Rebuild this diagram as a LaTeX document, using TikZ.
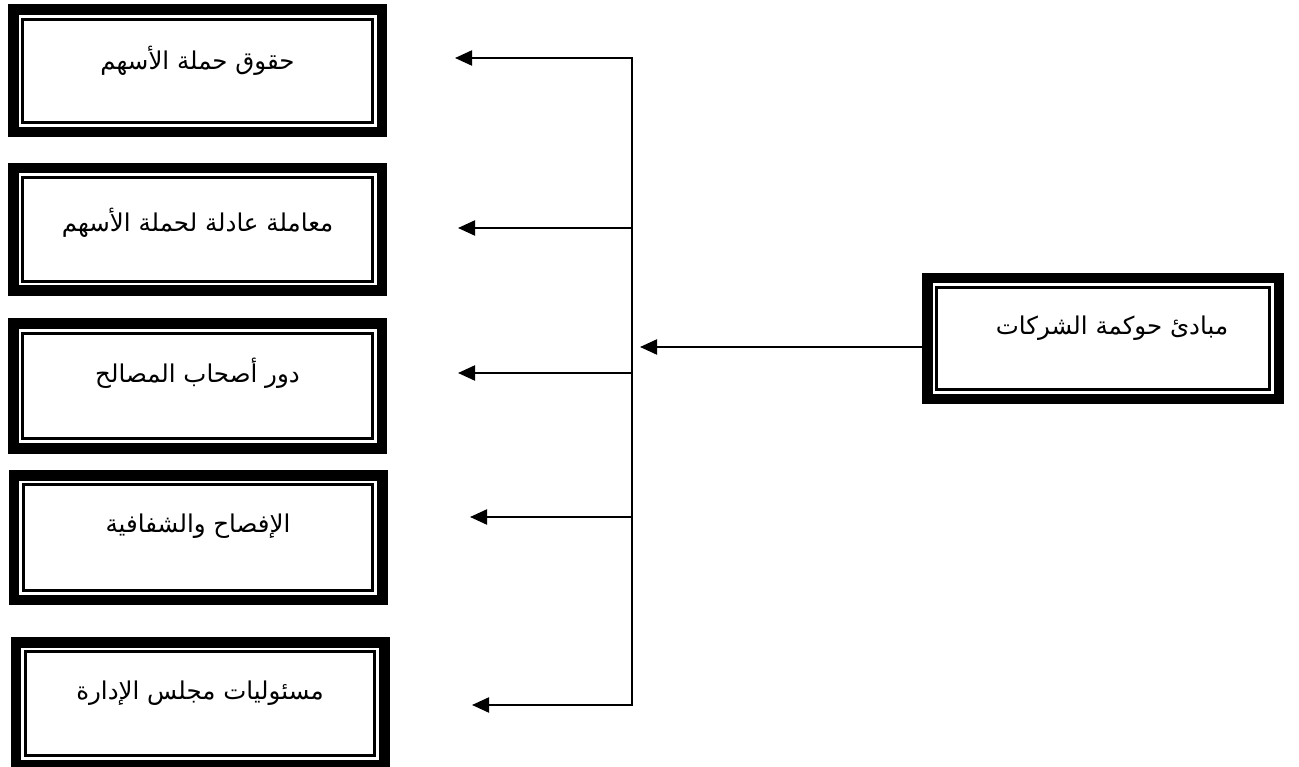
\documentclass[tikz,border=0pt]{standalone}
\usepackage{fontspec}
\newfontfamily\arabicfont[Script=Arabic]{DejaVu Sans}
\TeXXeTstate=1
\usetikzlibrary{arrows.meta}
\begin{document}
\begin{tikzpicture}[x=1pt,y=-1pt,
  framebox/.style={draw=black, line width=10.5pt, minimum width=368.5pt, minimum height=122.5pt,
    inner sep=0pt, fill=white, font=\arabicfont\fontsize{24.5}{28}\selectfont,
    path picture={\draw[line width=3pt]
      ([shift={(9.5pt,9.5pt)}]path picture bounding box.south west) rectangle
      ([shift={(-9.5pt,-9.5pt)}]path picture bounding box.north east);}},
  tip/.tip={Triangle[length=17pt,width=15pt]},
  arr/.style={line width=2.2pt, -tip},
  spine/.style={line width=2.2pt, line join=miter, tip-tip}]
\useasboundingbox (0,0) rectangle (1299,767);
\fill[white] (0,0) rectangle (1299,767);

\node[framebox] (b1) at (197.5,71) {\raisebox{27pt}{\beginR حقوق حملة الأسهم\endR}};
\node[framebox] (b2) at (197.5,229.5) {\raisebox{20pt}{\beginR معاملة عادلة لحملة الأسهم\endR}};
\node[framebox, minimum height=124.5pt] (b3) at (197.5,386) {\raisebox{31pt}{\beginR دور أصحاب المصالح\endR}};
\node[framebox, minimum height=124.5pt] (b4) at (198,537.5) {\raisebox{29pt}{\beginR الإفصاح والشفافية\endR}};
\node[framebox] (b5) at (200,703.5) {\raisebox{27pt}{\beginR مسئوليات مجلس الإدارة\endR}};
\node[framebox, minimum width=351.5pt, minimum height=120.5pt] (main) at (1103,338.5)
  {\raisebox{27pt}{\kern18pt\beginR مبادئ حوكمة الشركات\endR}};

\coordinate (s1) at (632,58);
\coordinate (s2) at (632,228);
\coordinate (s3) at (632,373);
\coordinate (s4) at (632,517);
\coordinate (s5) at (632,705);
\coordinate (t1) at (455,58);
\coordinate (t2) at (458,228);
\coordinate (t3) at (458,373);
\coordinate (t4) at (470,517);
\coordinate (t5) at (472,705);
\coordinate (tm) at (640,347);

\draw[spine] (t1) -- (s1) -- (s5) -- (t5);
\draw[arr] (s2) -- (t2);
\draw[arr] (s3) -- (t3);
\draw[arr] (s4) -- (t4);
\draw[arr] ([yshift=-8.5pt]main.west) -- (tm);
\end{tikzpicture}
\end{document}
